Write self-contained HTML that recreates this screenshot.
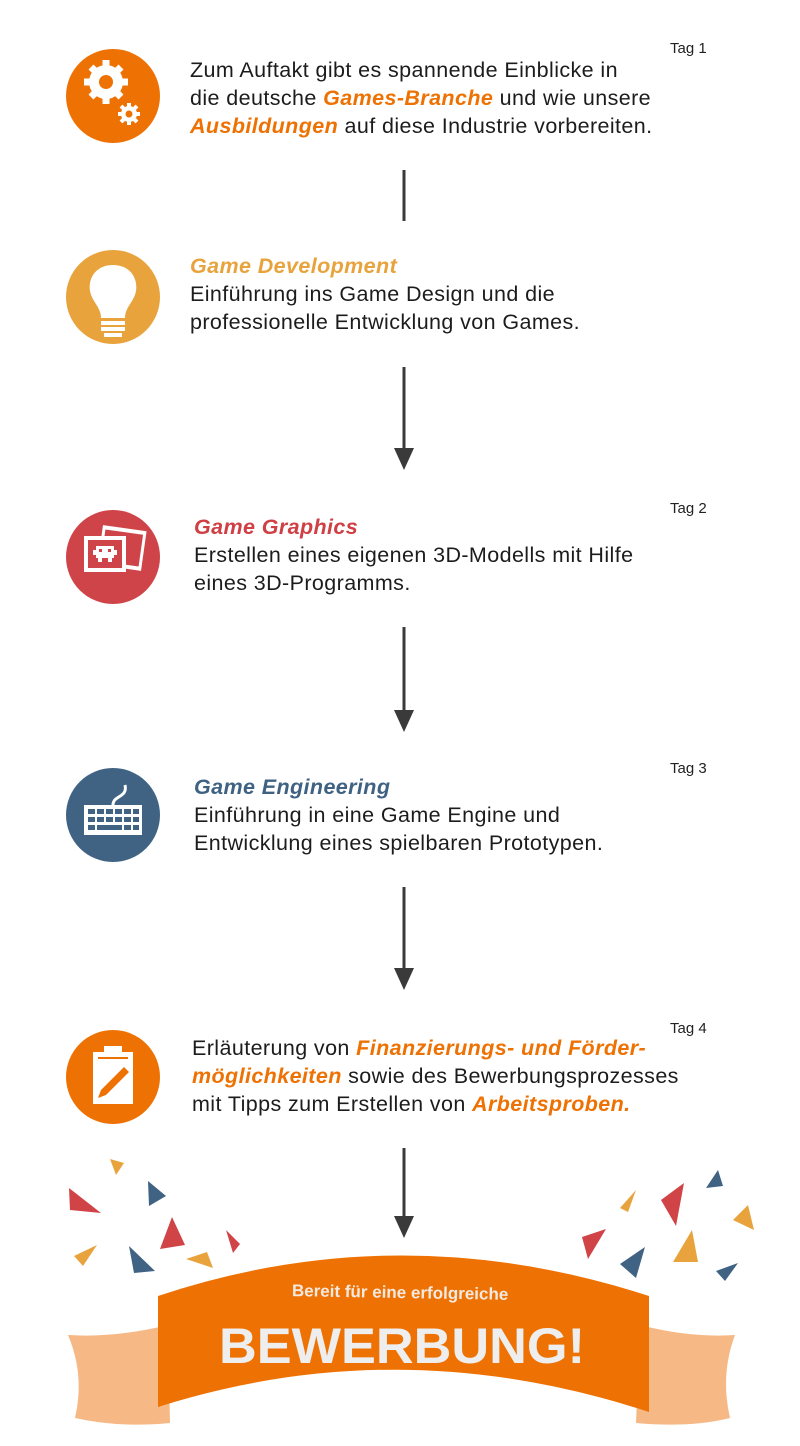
<!DOCTYPE html>
<html><head><meta charset="utf-8"><style>
body{margin:0;width:800px;height:1446px;background:#fff;position:relative;overflow:hidden;font-family:"Liberation Sans",sans-serif;color:#1c1c1c}
.t{position:absolute;font-size:21.5px;line-height:28px;letter-spacing:0.4px;white-space:nowrap}
.tag{position:absolute;left:670px;font-size:15px;color:#222}
.o{color:#ee7203;font-style:italic;font-weight:bold}
.y{color:#e8a33d;font-style:italic;font-weight:bold}
.r{color:#cf3f44;font-style:italic;font-weight:bold}
.b{color:#3f6283;font-style:italic;font-weight:bold}
svg{position:absolute;left:0;top:0}
</style></head><body>
<svg width="800" height="1446" viewBox="0 0 800 1446">
<g stroke="#3a3a3a" stroke-width="3">
<line x1="404" y1="170" x2="404" y2="221"/>
<line x1="404" y1="367" x2="404" y2="450"/>
<line x1="404" y1="627" x2="404" y2="712"/>
<line x1="404" y1="887" x2="404" y2="970"/>
<line x1="404" y1="1148" x2="404" y2="1218"/>
</g>
<g fill="#3a3a3a">
<path d="M394 448 L414 448 L404 470z"/>
<path d="M394 710 L414 710 L404 732z"/>
<path d="M394 968 L414 968 L404 990z"/>
<path d="M394 1216 L414 1216 L404 1238z"/>
</g>
<circle cx="113" cy="96" r="47" fill="#ee7203"/>
<circle cx="113" cy="297" r="47" fill="#e8a33d"/>
<circle cx="113" cy="557" r="47" fill="#cf4448"/>
<circle cx="113" cy="815" r="47" fill="#406384"/>
<circle cx="113" cy="1077" r="47" fill="#ee7203"/>
<g fill="#fff">
<circle cx="106" cy="82" r="17"/>
<g stroke="#fff" stroke-width="7"><line x1="106" y1="60" x2="106" y2="104"/><line x1="84" y1="82" x2="128" y2="82"/><line x1="91" y1="67" x2="121" y2="97"/><line x1="121" y1="67" x2="91" y2="97"/></g>
<circle cx="106" cy="82" r="7" fill="#ee7203"/>
<circle cx="129" cy="114" r="8"/>
<g stroke="#fff" stroke-width="4"><line x1="129" y1="103" x2="129" y2="125"/><line x1="118" y1="114" x2="140" y2="114"/><line x1="121" y1="106" x2="137" y2="122"/><line x1="137" y1="106" x2="121" y2="122"/></g>
<circle cx="129" cy="114" r="3.5" fill="#ee7203"/>
</g>
<g fill="#fff">
<path d="M113 265 C96 265 88 278 90 291 C92 302 101 307 101 318 L125 318 C125 307 134 302 136 291 C138 278 130 265 113 265z"/>
<rect x="101" y="321" width="24" height="4"/><rect x="101" y="327" width="24" height="4"/><rect x="104" y="333" width="18" height="4"/>
</g>
<g>
<rect x="100" y="528" width="44" height="40" fill="#fff" transform="rotate(8 122 548)"/>
<rect x="103" y="532" width="38" height="32" fill="#cf4448" transform="rotate(8 122 548)"/>
<rect x="84" y="536" width="42" height="36" fill="#fff"/>
<rect x="88" y="540" width="34" height="28" fill="#cf4448"/>
<g fill="#fff"><rect x="96" y="546" width="18" height="12"/><rect x="93" y="550" width="24" height="5"/><rect x="98" y="558" width="4" height="4"/><rect x="108" y="558" width="4" height="4"/></g>
<g fill="#cf4448"><rect x="99" y="549" width="3" height="3"/><rect x="108" y="549" width="3" height="3"/></g>
</g>
<g>
<path d="M113 805 C113 795 128 798 125 785" stroke="#fff" stroke-width="3" fill="none"/>
<rect x="84" y="805" width="58" height="30" fill="#fff"/>
<g fill="#406384">
<rect x="88" y="809" width="7" height="5"/><rect x="97" y="809" width="7" height="5"/><rect x="106" y="809" width="7" height="5"/><rect x="115" y="809" width="7" height="5"/><rect x="124" y="809" width="7" height="5"/><rect x="133" y="809" width="6" height="5"/>
<rect x="88" y="817" width="7" height="5"/><rect x="97" y="817" width="7" height="5"/><rect x="106" y="817" width="7" height="5"/><rect x="115" y="817" width="7" height="5"/><rect x="124" y="817" width="7" height="5"/><rect x="133" y="817" width="6" height="5"/>
<rect x="88" y="825" width="7" height="5"/><rect x="97" y="825" width="25" height="5"/><rect x="124" y="825" width="7" height="5"/><rect x="133" y="825" width="6" height="5"/>
</g></g>
<g>
<rect x="93" y="1052" width="40" height="52" fill="#fff"/>
<rect x="104" y="1046" width="18" height="7" fill="#fff"/>
<line x1="98" y1="1058" x2="128" y2="1058" stroke="#ee7203" stroke-width="2"/>
<path d="M98 1098 L101 1090 L124 1067 L129 1072 L106 1095z" fill="#ee7203"/>
</g>
<g>
<path d="M69 1188 L70 1210 L101 1213z" fill="#d04448"/>
<path d="M110 1159 L124 1163 L116 1175z" fill="#e8a33d"/>
<path d="M148 1181 L166 1196 L149 1206z" fill="#406384"/>
<path d="M172 1217 L185 1245 L160 1249z" fill="#d04448"/>
<path d="M74 1256 L97 1245 L83 1266z" fill="#e8a33d"/>
<path d="M129 1246 L155 1271 L134 1273z" fill="#406384"/>
<path d="M226 1230 L240 1244 L233 1253z" fill="#d04448"/>
<path d="M186 1259 L207 1252 L213 1268z" fill="#e8a33d"/>
<path d="M582 1237 L606 1229 L588 1259z" fill="#d04448"/>
<path d="M620 1208 L636 1190 L628 1212z" fill="#e8a33d"/>
<path d="M661 1200 L684 1183 L676 1226z" fill="#d04448"/>
<path d="M706 1188 L718 1170 L723 1186z" fill="#406384"/>
<path d="M733 1220 L748 1205 L754 1230z" fill="#e8a33d"/>
<path d="M620 1264 L645 1247 L636 1278z" fill="#406384"/>
<path d="M673 1262 L692 1230 L698 1262z" fill="#e8a33d"/>
<path d="M716 1271 L738 1263 L725 1281z" fill="#406384"/>
</g>
<path d="M68 1335 Q115 1338 168 1325 L170 1423 Q120 1428 75 1418 Q85 1375 68 1335z" fill="#f6b884"/>
<path d="M735 1335 Q690 1338 640 1325 L636 1423 Q690 1428 730 1418 Q720 1375 735 1335z" fill="#f6b884"/>
<path d="M158 1296 Q400 1215 649 1296 L649 1412 Q400 1330 158 1407z" fill="#ee7203"/>
<text x="400" y="1298" text-anchor="middle" font-family="Liberation Sans" font-size="17" font-weight="bold" fill="#f3e9e0" transform="rotate(1 400 1298)">Bereit für eine erfolgreiche</text>
<text x="402" y="1363" text-anchor="middle" font-family="Liberation Sans" font-size="50" font-weight="bold" fill="#eeeeee" textLength="366" lengthAdjust="spacingAndGlyphs">BEWERBUNG!</text>
</svg>
<div class="tag" style="top:40px">Tag 1</div>
<div class="tag" style="top:500px">Tag 2</div>
<div class="tag" style="top:760px">Tag 3</div>
<div class="tag" style="top:1020px">Tag 4</div>
<div class="t" style="left:190px;top:56px">Zum Auftakt gibt es spannende Einblicke in<br>die deutsche <span class="o">Games-Branche</span> und wie unsere<br><span class="o">Ausbildungen</span> auf diese Industrie vorbereiten.</div>
<div class="t" style="left:190px;top:252px"><span class="y">Game Development</span><br>Einführung ins Game Design und die<br>professionelle Entwicklung von Games.</div>
<div class="t" style="left:194px;top:513px"><span class="r">Game Graphics</span><br>Erstellen eines eigenen 3D-Modells mit Hilfe<br>eines 3D-Programms.</div>
<div class="t" style="left:194px;top:773px"><span class="b">Game Engineering</span><br>Einführung in eine Game Engine und<br>Entwicklung eines spielbaren Prototypen.</div>
<div class="t" style="left:192px;top:1034px">Erläuterung von <span class="o">Finanzierungs- und Förder-</span><br><span class="o">möglichkeiten</span> sowie des Bewerbungsprozesses<br>mit Tipps zum Erstellen von <span class="o">Arbeitsproben.</span></div>
</body></html>
